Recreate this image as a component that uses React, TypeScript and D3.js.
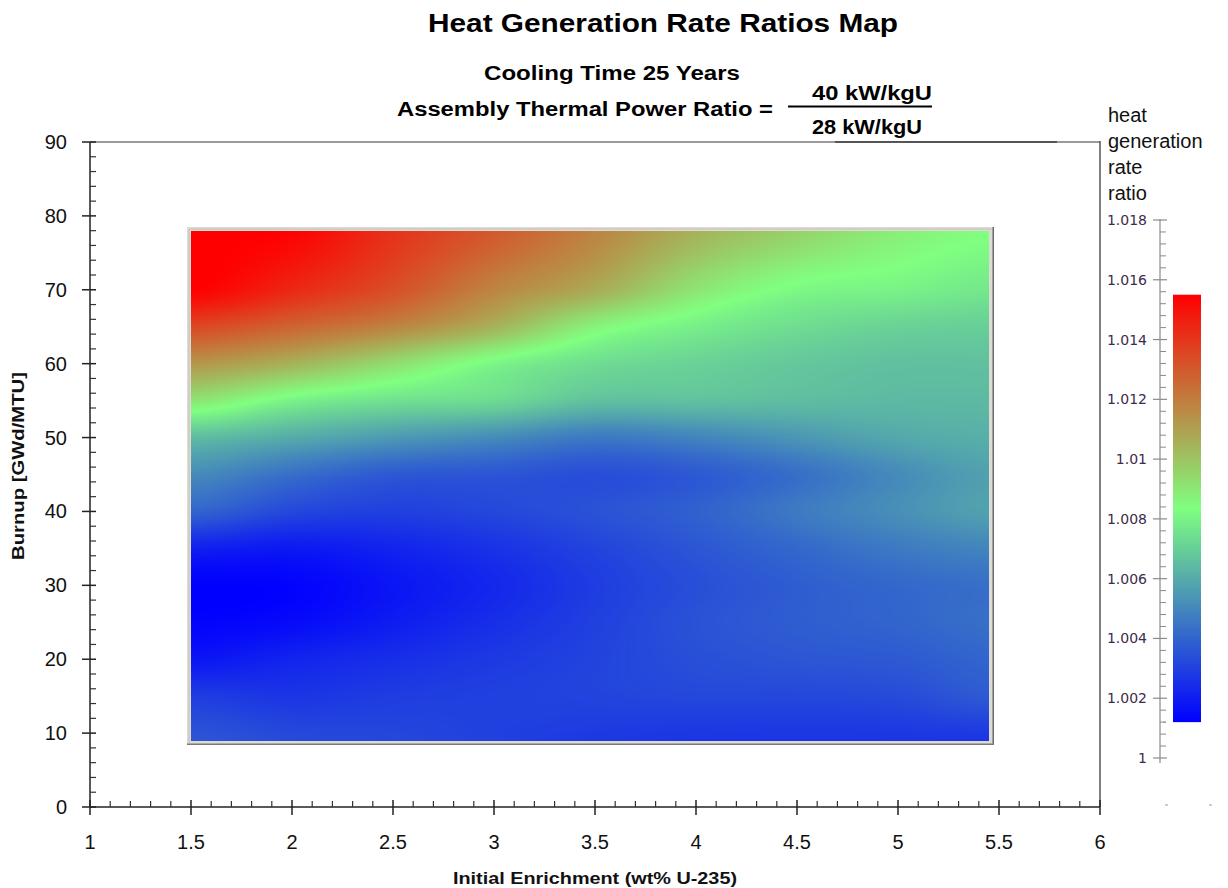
import React, { useMemo } from "react";
import * as d3 from "d3";

// Grid nodes of the ratio map
const enrichment = [1.5, 2.0, 2.5, 3.0, 3.5, 4.0, 4.5, 5.0, 5.45];
const burnup = [9, 15, 20, 25, 30, 35, 40, 45, 50, 55, 60, 65, 70, 78];

// Heat generation rate ratio, one row per burnup value (columns follow `enrichment`)
const ratio9 = [1.0036, 1.0033, 1.0032, 1.003, 1.0028, 1.0027, 1.0027, 1.0027, 1.0027];
const ratio15 = [1.0029, 1.0027, 1.0029, 1.003, 1.0031, 1.0032, 1.0032, 1.0033, 1.0037];
const ratio20 = [1.0018, 1.0022, 1.0025, 1.0028, 1.0031, 1.0034, 1.0036, 1.0037, 1.004];
const ratio25 = [1.0013, 1.0015, 1.002, 1.0025, 1.003, 1.0035, 1.0038, 1.004, 1.0043];
const ratio30 = [1.0012, 1.0013, 1.0018, 1.0023, 1.0029, 1.0034, 1.0038, 1.0041, 1.0043];
const ratio35 = [1.0021, 1.0019, 1.0022, 1.0026, 1.0031, 1.0036, 1.0041, 1.0046, 1.0049];
const ratio40 = [1.004, 1.0032, 1.003, 1.0032, 1.0035, 1.0039, 1.0046, 1.0052, 1.0057];
const ratio45 = [1.0051, 1.0043, 1.0037, 1.0036, 1.0034, 1.0037, 1.0043, 1.0051, 1.0057];
const ratio50 = [1.0065, 1.006, 1.0055, 1.0051, 1.0046, 1.0049, 1.0054, 1.0059, 1.0061];
const ratio55 = [1.0091, 1.008, 1.0075, 1.0073, 1.0066, 1.0066, 1.0065, 1.0064, 1.0064];
const ratio60 = [1.0113, 1.0105, 1.0093, 1.0081, 1.0074, 1.0071, 1.0068, 1.0066, 1.0066];
const ratio65 = [1.0135, 1.0127, 1.0118, 1.0105, 1.0087, 1.0079, 1.0074, 1.0071, 1.007];
const ratio70 = [1.0155, 1.0144, 1.0133, 1.0118, 1.0107, 1.0091, 1.0082, 1.008, 1.0077];
const ratio78 = [1.0155, 1.0154, 1.0141, 1.013, 1.0118, 1.0105, 1.0096, 1.0088, 1.0084];
const ratioRows = [
  ratio9, ratio15, ratio20, ratio25, ratio30, ratio35, ratio40,
  ratio45, ratio50, ratio55, ratio60, ratio65, ratio70, ratio78,
];

// Axis ticks
const xTicks = [1, 1.5, 2, 2.5, 3, 3.5, 4, 4.5, 5, 5.5, 6];
const yTicks = [0, 10, 20, 30, 40, 50, 60, 70, 80, 90];
const cbTicks = [1, 1.002, 1.004, 1.006, 1.008, 1.01, 1.012, 1.014, 1.016, 1.018];
const cbTickLabels = ["1", "1.002", "1.004", "1.006", "1.008", "1.01", "1.012", "1.014", "1.016", "1.018"];

const W = 1228;
const H = 888;
const sans = "'Liberation Sans', Arial, sans-serif";

const x = d3.scaleLinear().domain([1, 6]).range([90, 1100]);
const y = d3.scaleLinear().domain([0, 90]).range([807, 142]);
const cb = d3.scaleLinear().domain([1, 1.018]).range([758, 220]);

const [vmin, vmax] = d3.extent(ratioRows.flat()) as [number, number];
const color = d3
  .scaleLinear<string>()
  .domain([vmin, (vmin + vmax) / 2, vmax])
  .range(["#0000ff", "#80ff80", "#ff0000"])
  .interpolate(d3.interpolateRgb)
  .clamp(true);

function catmull(p0: number, p1: number, p2: number, p3: number, t: number) {
  return (
    0.5 *
    (2 * p1 +
      (-p0 + p2) * t +
      (2 * p0 - 5 * p1 + 4 * p2 - p3) * t * t +
      (-p0 + 3 * p1 - 3 * p2 + p3) * t * t * t)
  );
}

// Smooth sample of the grid at fractional row/column indices
function sample(fr: number, fc: number) {
  const nR = burnup.length;
  const nC = enrichment.length;
  const r = Math.min(Math.max(Math.floor(fr), 0), nR - 2);
  const c = Math.min(Math.max(Math.floor(fc), 0), nC - 2);
  const tr = fr - r;
  const tc = fc - c;
  const cl = (i: number, n: number) => Math.min(Math.max(i, 0), n - 1);
  const rowVals: number[] = [];
  for (let k = -1; k <= 2; k++) {
    const row = ratioRows[cl(r + k, nR)];
    rowVals.push(
      catmull(row[cl(c - 1, nC)], row[c], row[c + 1], row[cl(c + 2, nC)], tc)
    );
  }
  return catmull(rowVals[0], rowVals[1], rowVals[2], rowVals[3], tr);
}

function useHeatImage() {
  return useMemo(() => {
    const x0 = Math.round(x(enrichment[0]));
    const x1 = Math.round(x(enrichment[enrichment.length - 1]));
    const y0 = Math.round(y(burnup[burnup.length - 1]));
    const y1 = Math.round(y(burnup[0]));
    const w = x1 - x0;
    const h = y1 - y0;
    const canvas = document.createElement("canvas");
    canvas.width = w;
    canvas.height = h;
    const ctx = canvas.getContext("2d")!;
    const img = ctx.createImageData(w, h);
    const ei = d3.scaleLinear().domain(enrichment).range(d3.range(enrichment.length)).clamp(true);
    const bi = d3.scaleLinear().domain(burnup).range(d3.range(burnup.length)).clamp(true);
    const N = 1024;
    const lut = d3.range(N).map((i) => d3.rgb(color(vmin + ((vmax - vmin) * i) / (N - 1))));
    for (let py = 0; py < h; py++) {
      const fr = bi(y.invert(y0 + py + 0.5));
      for (let px = 0; px < w; px++) {
        const fc = ei(x.invert(x0 + px + 0.5));
        const v = sample(fr, fc);
        let idx = Math.round(((v - vmin) / (vmax - vmin)) * (N - 1));
        idx = Math.min(Math.max(idx, 0), N - 1);
        const c = lut[idx];
        const o = (py * w + px) * 4;
        img.data[o] = c.r;
        img.data[o + 1] = c.g;
        img.data[o + 2] = c.b;
        img.data[o + 3] = 255;
      }
    }
    ctx.putImageData(img, 0, 0);
    return { href: canvas.toDataURL(), x0, y0, w, h };
  }, []);
}

export default function App() {
  const heat = useHeatImage();
  const xMinor = d3.range(10, 61).map((i) => i / 10).filter((v) => Math.abs(v * 2 - Math.round(v * 2)) > 1e-6);
  const yMinor = d3.range(0, 91, 2).filter((v) => v % 10 !== 0);
  const cbMinor = d3.range(0, 46).filter((i) => i % 5 !== 0).map((i) => 1 + i * 0.0004);
  const gradStops = d3.range(0, 21).map((i) => i / 20);

  const fx0 = heat.x0 - 4;
  const fy0 = heat.y0 - 4;
  const fx1 = heat.x0 + heat.w + 5;
  const fy1 = heat.y0 + heat.h + 4;

  const cbTop = cb(vmax);
  const cbBottom = cb(vmin);

  return (
    <svg width={W} height={H} style={{ display: "block", position: "absolute", left: 0, top: 0 }}>
      <defs>
        <linearGradient id="cbGrad" x1="0" y1="1" x2="0" y2="0">
          {gradStops.map((t) => (
            <stop key={t} offset={t} stopColor={color(vmin + t * (vmax - vmin))} />
          ))}
        </linearGradient>
      </defs>
      <rect width={W} height={H} fill="#ffffff" />

      {/* Titles */}
      <text x={428} y={32} fontFamily={sans} fontWeight="bold" fontSize={26} fill="#000" textLength={470} lengthAdjust="spacingAndGlyphs">
        Heat Generation Rate Ratios Map
      </text>
      <text x={484} y={80} fontFamily={sans} fontWeight="bold" fontSize={20} fill="#000" textLength={256} lengthAdjust="spacingAndGlyphs">
        Cooling Time 25 Years
      </text>
      <text x={397} y={116} fontFamily={sans} fontWeight="bold" fontSize={20} fill="#000" textLength={376} lengthAdjust="spacingAndGlyphs">
        Assembly Thermal Power  Ratio =
      </text>
      <text x={812} y={100} fontFamily={sans} fontWeight="bold" fontSize={20} fill="#000" textLength={120} lengthAdjust="spacingAndGlyphs">
        40 kW/kgU
      </text>
      <line x1={788} x2={932} y1={106.5} y2={106.5} stroke="#000" strokeWidth={2} />
      <text x={812} y={134} fontFamily={sans} fontWeight="bold" fontSize={20} fill="#000" textLength={110} lengthAdjust="spacingAndGlyphs">
        28 kW/kgU
      </text>

      {/* Plot frame */}
      <line x1={90} x2={1100} y1={142} y2={142} stroke="#9a9a9a" strokeWidth={2} />
      <line x1={835} x2={1057} y1={142} y2={142} stroke="#555" strokeWidth={2} />
      <line x1={1100} x2={1100} y1={141} y2={807} stroke="#555" strokeWidth={1.5} />

      {/* Heat map with bevelled frame */}
      <rect x={fx0} y={fy0} width={fx1 - fx0} height={fy1 - fy0} fill="#dedbd4" />
      <line x1={fx0 + 2} x2={fx0 + 2} y1={fy0 + 2} y2={fy1 - 2} stroke="#c4c0b8" strokeWidth={1} />
      <line x1={fx0 + 2} x2={fx1 - 2} y1={fy0 + 2} y2={fy0 + 2} stroke="#c4c0b8" strokeWidth={1} />
      <line x1={fx1 - 0.75} x2={fx1 - 0.75} y1={fy0} y2={fy1} stroke="#6a6a6a" strokeWidth={1.5} />
      <line x1={fx0} x2={fx1} y1={fy1 - 0.75} y2={fy1 - 0.75} stroke="#7a7a7a" strokeWidth={1.5} />
      <image href={heat.href} x={heat.x0} y={heat.y0} width={heat.w} height={heat.h} preserveAspectRatio="none" />

      {/* X axis */}
      <line x1={90} x2={1100} y1={807} y2={807} stroke="#222" strokeWidth={1.5} />
      {xMinor.map((v) => (
        <line key={"xm" + v} x1={x(v)} x2={x(v)} y1={801} y2={807} stroke="#333" strokeWidth={1.2} />
      ))}
      {xTicks.map((v) => (
        <g key={"xt" + v}>
          <line x1={x(v)} x2={x(v)} y1={800} y2={815} stroke="#222" strokeWidth={1.5} />
          <text x={x(v)} y={849} textAnchor="middle" fontFamily={sans} fontSize={20} fill="#111">
            {String(v)}
          </text>
        </g>
      ))}
      <text x={453} y={884} fontFamily={sans} fontWeight="bold" fontSize={17} fill="#111" textLength={284} lengthAdjust="spacingAndGlyphs">
        Initial Enrichment (wt% U-235)
      </text>

      {/* Y axis */}
      <line x1={90} x2={90} y1={142} y2={807} stroke="#222" strokeWidth={1.5} />
      {yMinor.map((v) => (
        <line key={"ym" + v} x1={90} x2={96} y1={y(v)} y2={y(v)} stroke="#333" strokeWidth={1.2} />
      ))}
      {yTicks.map((v) => (
        <g key={"yt" + v}>
          <line x1={82} x2={96} y1={y(v)} y2={y(v)} stroke="#222" strokeWidth={1.5} />
          <text x={67} y={y(v) + 7} textAnchor="end" fontFamily={sans} fontSize={20} fill="#111">
            {String(v)}
          </text>
        </g>
      ))}
      <text
        transform="translate(24,560) rotate(-90)"
        fontFamily={sans}
        fontWeight="bold"
        fontSize={17}
        fill="#111"
        textLength={188}
        lengthAdjust="spacingAndGlyphs"
      >
        Burnup [GWd/MTU]
      </text>

      {/* Colour bar */}
      {["heat", "generation", "rate", "ratio"].map((t, i) => (
        <text key={t} x={1108} y={122 + i * 26} fontFamily={sans} fontSize={20} fill="#111">
          {t}
        </text>
      ))}
      <line x1={1160} x2={1160} y1={219} y2={763} stroke="#8a8a8a" strokeWidth={1.2} />
      {cbMinor.map((v) => (
        <line key={"cm" + v} x1={1160} x2={1166} y1={cb(v)} y2={cb(v)} stroke="#8a8a8a" strokeWidth={1} />
      ))}
      {cbTicks.map((v, i) => (
        <g key={"ct" + v}>
          <line x1={1153} x2={1167} y1={cb(v)} y2={cb(v)} stroke="#8a8a8a" strokeWidth={1.2} />
          <text x={1147} y={cb(v) + 5} textAnchor="end" fontFamily="'DejaVu Sans', Verdana, sans-serif" fontSize={14} fill="#3d2c4c">
            {cbTickLabels[i]}
          </text>
        </g>
      ))}
      <rect x={1173} y={cbTop} width={28} height={cbBottom - cbTop} fill="url(#cbGrad)" />
      <line x1={1163} x2={1166} y1={cbBottom} y2={cbBottom} stroke="#999" strokeWidth={1} />
      <line x1={1165} x2={1168} y1={805} y2={805} stroke="#999" strokeWidth={1} />
      <line x1={1209} x2={1212} y1={805} y2={805} stroke="#999" strokeWidth={1} />
    </svg>
  );
}
